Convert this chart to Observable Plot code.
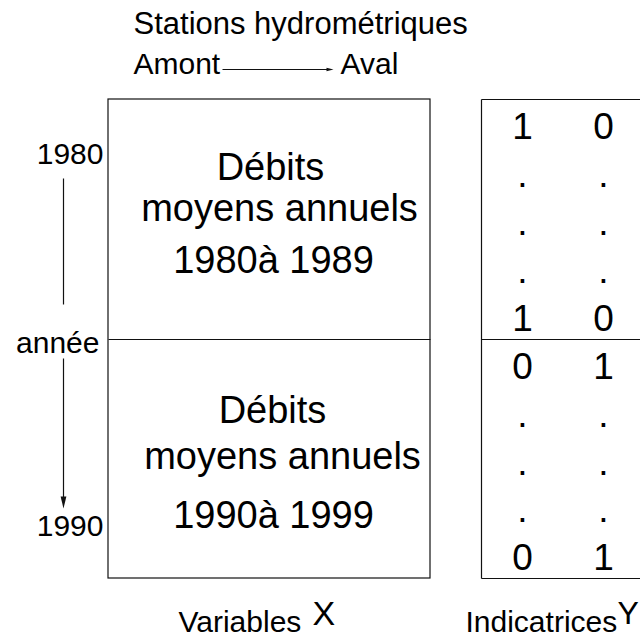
<!DOCTYPE html>
<html>
<head>
<meta charset="utf-8">
<script src="https://cdn.jsdelivr.net/npm/d3@7"></script>
<script src="https://cdn.jsdelivr.net/npm/@observablehq/plot@0.6"></script>
<style>
  html, body { margin: 0; padding: 0; background: #fff; overflow: hidden; }
  #chart svg { display: block; }
</style>
</head>
<body>
<div id="chart"></div>
<script>
// ---- data (text content of the diagram) ----
const stationsTitle = "Stations hydrométriques";
const flowLabels = ["Amont", "Aval"];
const yearLabels = ["1980", "année", "1990"];
const boxLines = ["Débits", "moyens annuels"];
const periods = ["1980à 1989", "1990à 1999"];
const indicators = [[1, 0], [0, 1]];
const dotRows = 3;
const axisWords = ["Variables", "Indicatrices"];
const axisLetters = ["X", "Y"];

// ---- layout (pixel geometry of the diagram) ----
const W = 640, H = 638;
const FONT = "'Liberation Sans', Arial, Helvetica, sans-serif";
const box = {top: 99, mid: 339, bottom: 578, lx1: 108, lx2: 430, rx1: 481, rx2: 640};
const colX = [522, 603];
const rowPitch = 47.9;
const rowsPerBlock = dotRows + 2;
const rowY = (r) => box.top + (r + 0.5) * rowPitch;

// Indicator matrix cells
const cells = [];
indicators.forEach((vals, p) => {
  for (let k = 0; k < rowsPerBlock; k++) {
    const r = p * rowsPerBlock + k;
    vals.forEach((v, j) => {
      const isEdge = k === 0 || k === rowsPerBlock - 1;
      cells.push({x: colX[j], y: rowY(r), text: isEdge ? String(v) : "."});
    });
  }
});

// Text in the left boxes
const boxText = [];
const blockBaselines = [[179, 220, 272], [422, 468, 527]];
const blockCenters = [[270, 279, 273], [272, 282, 273]];
periods.forEach((per, p) => {
  [...boxLines, per].forEach((t, i) => {
    boxText.push({x: blockCenters[p][i], y: blockBaselines[p][i], text: t, size: 38});
  });
});

// Texts anchored at start
const startText = [
  {x: 133, y: 33, text: stationsTitle, size: 31},
  {x: 133, y: 73, text: flowLabels[0], size: 30},
  {x: 340, y: 73, text: flowLabels[1], size: 30},
  {x: 178, y: 631, text: axisWords[0], size: 30},
  {x: 312, y: 624, text: axisLetters[0], size: 34},
  {x: 465, y: 631, text: axisWords[1], size: 30},
  {x: 617, y: 623, text: axisLetters[1], size: 32}
];
// Texts anchored at end (year axis)
const endText = [
  {x: 103, y: 163, text: yearLabels[0], size: 30},
  {x: 99, y: 352, text: yearLabels[1], size: 30},
  {x: 103, y: 535, text: yearLabels[2], size: 30}
];

// Lines
const lines = [
  // right box
  {x1: box.rx1, y1: box.top, x2: box.rx2, y2: box.top},
  {x1: box.rx1, y1: box.bottom, x2: box.rx2, y2: box.bottom},
  {x1: box.rx1, y1: box.top, x2: box.rx1, y2: box.bottom},
  {x1: box.rx1, y1: box.mid, x2: box.rx2, y2: box.mid},
  // left box mid
  {x1: box.lx1, y1: box.mid, x2: box.lx2, y2: box.mid},
  // year axis
  {x1: 63, y1: 178, x2: 63, y2: 304},
  {x1: 63, y1: 358, x2: 63, y2: 500},
  // Amont -> Aval
  {x1: 222, y1: 69, x2: 327, y2: 69}
];

const headShape = {
  draw(ctx, l) {
    const w = l * 0.24;
    ctx.moveTo(0, -l);
    ctx.lineTo(-w, 0);
    ctx.lineTo(w, 0);
    ctx.closePath();
  }
};

const chart = Plot.plot({
  width: W,
  height: H,
  margin: 0,
  style: {fontFamily: FONT, background: "#fff", color: "#000"},
  x: {domain: [0, W], axis: null},
  y: {domain: [0, H], reverse: true, axis: null},
  marks: [
    Plot.rect([{x1: box.lx1, x2: box.lx2, y1: box.top, y2: box.bottom}], {
      x1: "x1", x2: "x2", y1: "y1", y2: "y2", fill: "none", stroke: "#111", strokeWidth: 1.2
    }),
    Plot.link(lines, {x1: "x1", y1: "y1", x2: "x2", y2: "y2", stroke: "#111", strokeWidth: 1.2}),
    Plot.vector([{x: 63, y: 508}], {x: "x", y: "y", length: 12, rotate: 180, anchor: "end", shape: headShape, fill: "#111", stroke: "none"}),
    Plot.vector([{x: 333, y: 69}], {x: "x", y: "y", length: 7, rotate: 90, anchor: "end", shape: headShape, fill: "#111", stroke: "none"}),
    Plot.text(cells, {x: "x", y: "y", text: "text", fontSize: 37, dy: 4, textAnchor: "middle", lineAnchor: "middle", fill: "#000"}),
    Plot.text(boxText, {x: "x", y: "y", text: "text", fontSize: "size", textAnchor: "middle", lineAnchor: "bottom", fill: "#000"}),
    Plot.text(startText, {x: "x", y: "y", text: "text", fontSize: "size", textAnchor: "start", lineAnchor: "bottom", fill: "#000"}),
    Plot.text(endText, {x: "x", y: "y", text: "text", fontSize: "size", textAnchor: "end", lineAnchor: "bottom", fill: "#000"})
  ]
});
document.getElementById("chart").appendChild(chart);
</script>
</body>
</html>
